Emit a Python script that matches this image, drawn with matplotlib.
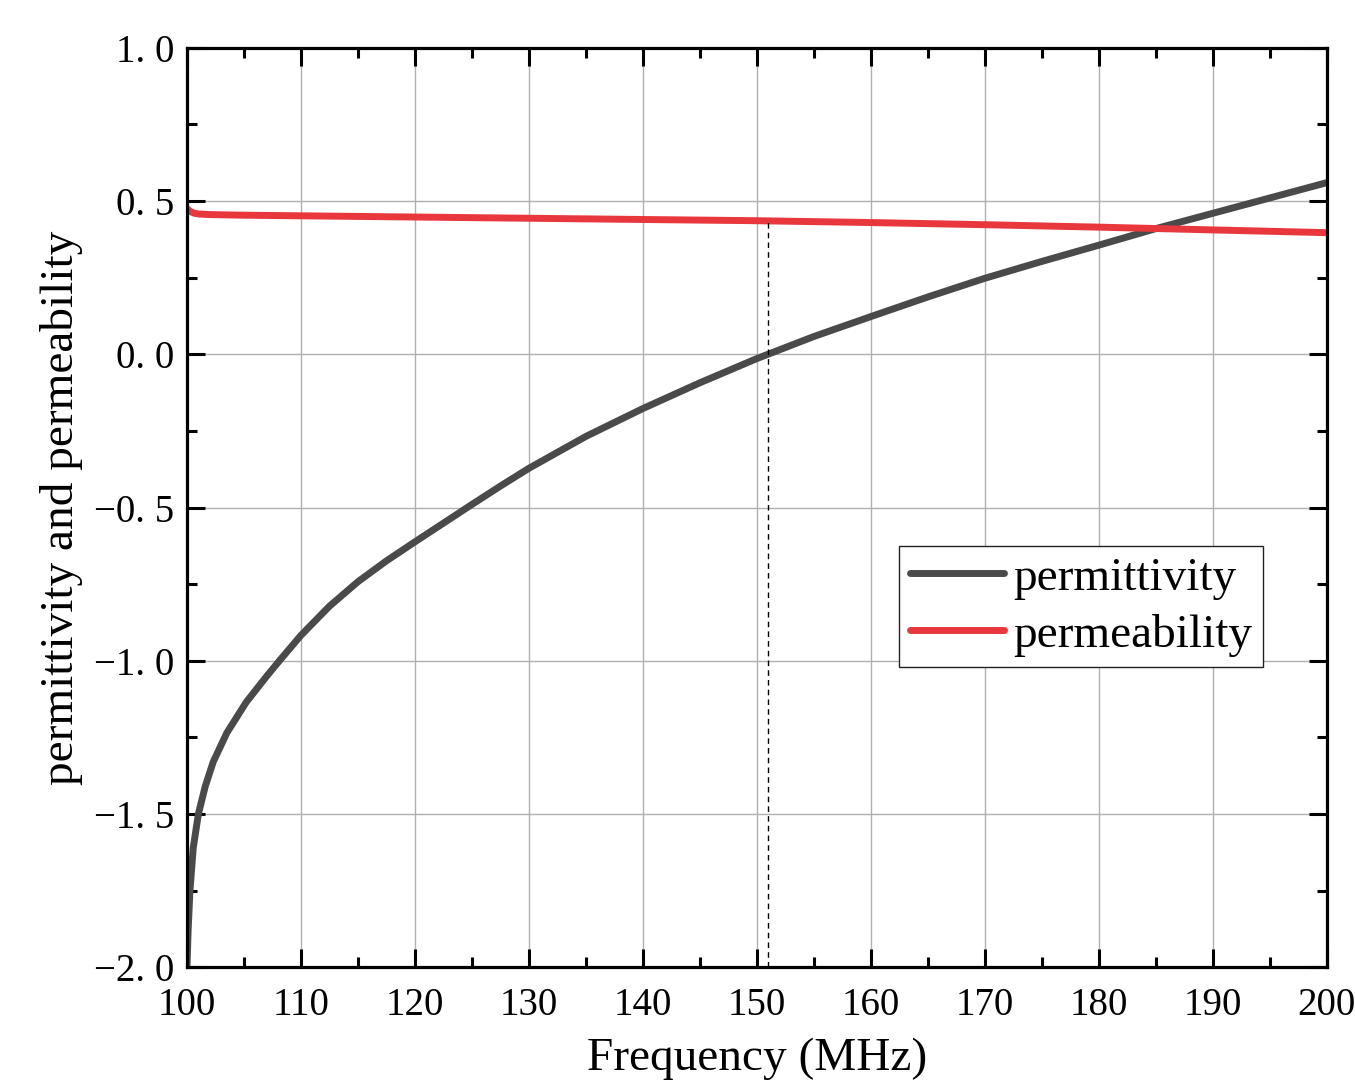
import matplotlib.pyplot as plt
from matplotlib.ticker import MultipleLocator, FuncFormatter

# Werte
freq_eps = [100.0, 100.1, 100.26, 100.55, 101.0, 101.6, 102.3, 103.5, 105.2, 107.0, 108.2,
            110.0, 112.5, 115.0, 117.5, 120.0, 122.5, 125.0, 127.5, 130.0, 135.0, 140.0, 145.0,
            150.0, 155.0, 160.0, 165.0, 170.0, 175.0, 180.0, 185.0, 190.0, 195.0, 200.0]
permittivity = [-2.0, -1.88, -1.75, -1.61, -1.5, -1.41, -1.33, -1.235, -1.135, -1.05, -0.996,
                -0.917, -0.822, -0.742, -0.674, -0.612, -0.551, -0.49, -0.43, -0.372, -0.268, -0.177, -0.093,
                -0.014, 0.058, 0.123, 0.187, 0.248, 0.303, 0.356, 0.41, 0.46, 0.51, 0.56]

freq_mu = [100.0, 100.3, 100.6, 101.0, 102.0, 105.0, 110.0, 120.0, 130.0, 140.0, 150.0,
           160.0, 170.0, 180.0, 190.0, 200.0]
permeability = [0.475, 0.466, 0.461, 0.458, 0.456, 0.454, 0.452, 0.448, 0.444, 0.44, 0.436,
                0.43, 0.423, 0.415, 0.406, 0.397]

# Markierung bei eps = 0
f_zero = 151.0
mu_at_zero = 0.435

serif = ['Liberation Serif', 'DejaVu Serif']

fig = plt.figure(figsize=(13.55, 10.88), dpi=100)
ax = fig.add_axes([0.138, 0.111, 0.841, 0.845])

ax.plot(freq_eps, permittivity, color='#4a4a4a', lw=5, label='permittivity', solid_capstyle='round')
ax.plot(freq_mu, permeability, color='#e8383d', lw=5, label='permeability', solid_capstyle='round')
ax.plot([f_zero, f_zero], [-2.0, mu_at_zero], color='black', lw=1, ls=(0, (4, 3)))

ax.set_xlim(100, 200)
ax.set_ylim(-2.0, 1.0)
ax.xaxis.set_major_locator(MultipleLocator(10))
ax.xaxis.set_minor_locator(MultipleLocator(5))
ax.yaxis.set_major_locator(MultipleLocator(0.5))
ax.yaxis.set_minor_locator(MultipleLocator(0.25))
ax.yaxis.set_major_formatter(FuncFormatter(lambda v, p: ('%.1f' % v).replace('.', '. ').replace('-', '\u2212')))

ax.grid(True, which='major', color='#b0b0b0', lw=1)
ax.set_axisbelow(True)

for s in ax.spines.values():
    s.set_linewidth(2.3)
ax.tick_params(which='both', direction='in', top=True, right=True, width=2.2)
ax.tick_params(which='major', length=13, labelsize=28, pad=9)
ax.tick_params(axis='x', which='major', pad=14)
ax.tick_params(which='minor', length=7)
for lab in ax.get_xticklabels() + ax.get_yticklabels():
    lab.set_family(serif)

ax.set_xlabel('Frequency (MHz)', fontsize=34, family=serif, labelpad=10)
ax.set_ylabel('permittivity and permeability', fontsize=34, family=serif, labelpad=8)

leg = ax.legend(loc='upper left', bbox_to_anchor=(0.625, 0.458), prop={'family': serif, 'size': 34},
                fancybox=False, edgecolor='#222222', framealpha=1, handlelength=2.0,
                handletextpad=0.2, borderpad=0.22, labelspacing=0.3, borderaxespad=0)
leg.get_frame().set_linewidth(1.0)

plt.savefig('out.png', dpi=100)
